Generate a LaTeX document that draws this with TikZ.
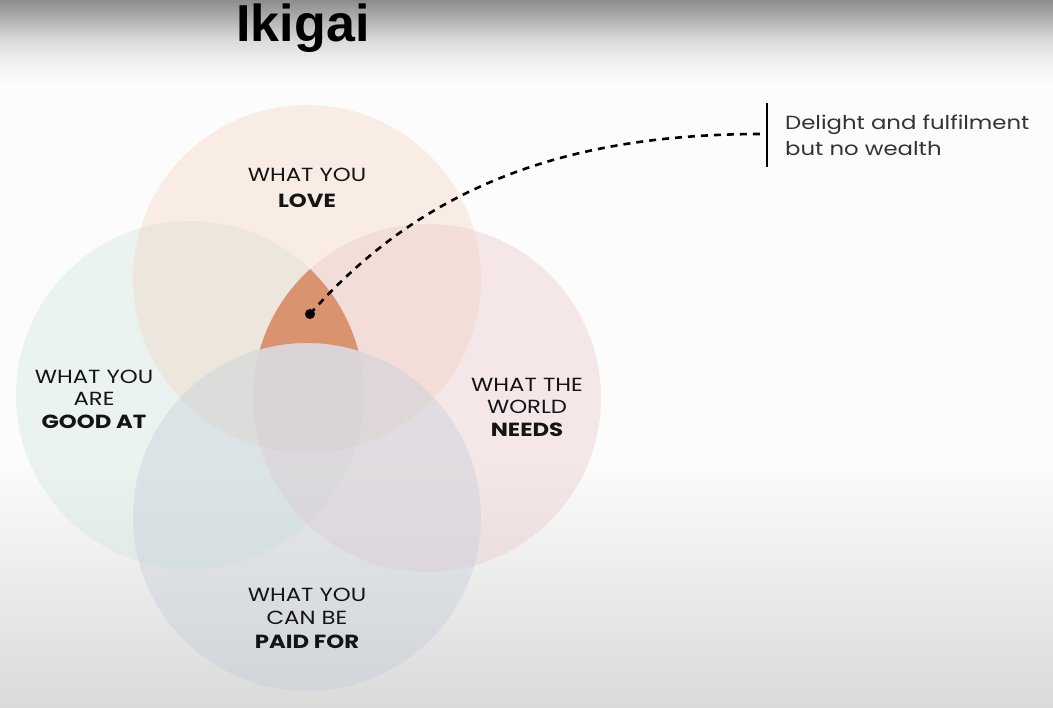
\documentclass[tikz,border=0pt]{standalone}
\usepackage{fontspec}
\setmainfont[FakeStretch=1.2]{Poppins}
\newfontfamily\titlefont{Liberation Sans}
\usetikzlibrary{positioning,calc}
\definecolor{iktop}{HTML}{8C8C8C}
\definecolor{iktopb}{HTML}{B4B4B4}
\definecolor{iktopc}{HTML}{DADADA}
\definecolor{iktopd}{HTML}{F0F0F0}
\definecolor{ikpaper}{HTML}{FCFCFC}
\definecolor{ikbottom}{HTML}{DADADA}
\definecolor{iklove}{HTML}{F2D4C0}
\definecolor{ikgood}{HTML}{D2E6DE}
\definecolor{ikneeds}{HTML}{EBC8C8}
\definecolor{ikpaid}{HTML}{C3CDD9}
\definecolor{ikorange}{HTML}{D9936F}
\definecolor{ikink}{HTML}{141414}
\definecolor{iknote}{HTML}{333333}
\tikzset{
  petal/.style ={circle,minimum size=348pt,inner sep=0pt,draw=none,fill opacity=0.4},
  lbl/.style   ={align=center,text=ikink,inner sep=0pt,font=\fontsize{19}{22.5}\selectfont},
  dot/.style   ={circle,fill=black,minimum size=10pt,inner sep=0pt},
  link/.style  ={line width=2.6pt,dash pattern=on 7pt off 6pt,draw=black},
  bar/.style   ={line width=2.6pt,draw=black},
  note/.style  ={align=left,anchor=west,text=iknote,inner sep=0pt,font=\fontsize{19}{26}\selectfont},
  heading/.style={font=\titlefont\bfseries\fontsize{52}{52}\selectfont},
}
\begin{document}
\begin{tikzpicture}[x=1pt,y=-1pt]
  \useasboundingbox (0,0) rectangle (1053,708);
  \fill[ikpaper] (0,0) rectangle (1053,708);
  \shade[top color=iktop,bottom color=iktopb,shading angle=0] (0,0) rectangle (1053,20.5);
  \shade[top color=iktopb,bottom color=iktopc] (0,20) rectangle (1053,40.5);
  \shade[top color=iktopc,bottom color=iktopd] (0,40) rectangle (1053,60.5);
  \shade[top color=iktopd,bottom color=ikpaper] (0,60) rectangle (1053,85);
  \shade[top color=ikpaper,bottom color=ikbottom] (0,460) rectangle (1053,708);

  % the four circles
  \node[petal,fill=ikgood]  (good)  at (190,395) {};
  \node[petal,fill=iklove]  (love)  at (307,279) {};
  \node[petal,fill=ikneeds] (needs) at (427,398) {};
  \node[petal,fill=ikpaid]  (paid)  at (307,517) {};

  % love + good at + needs, but not paid
  \begin{scope}[even odd rule]
    \clip (good.center) circle (174pt);
    \clip (needs.center) circle (174pt);
    \clip (0,0) rectangle (1053,708) (paid.center) circle (174pt);
    \fill[ikorange] (0,0) rectangle (1053,708);
  \end{scope}

  \node[heading] (title) at (303,28) {Ikigai};

  \node[lbl,font=\fontsize{19}{26}\selectfont] (lovetxt) at (307,188) {WHAT YOU\\\textbf{LOVE}};
  \node[lbl] (goodtxt)  at (94,399)  {WHAT YOU\\ARE\\\textbf{GOOD AT}};
  \node[lbl] (needstxt) at (527,407) {WHAT THE\\WORLD\\\textbf{NEEDS}};
  \node[lbl,font=\fontsize{19}{23.5}\selectfont] (paidtxt) at (307,618) {WHAT YOU\\CAN BE\\\textbf{PAID FOR}};

  \node[dot] (spot) at (310,314) {};
  \coordinate (tip) at (762,134);
  \coordinate (bartop) at (767,103);
  \coordinate (barbot) at (767,167);
  \draw[link] (spot.center) .. controls (420,190) and (560,134) .. (tip);
  \draw[bar] (bartop) -- (barbot);
  \node[note] (delight) at (785,135) {Delight and fulfilment\\but no wealth};
\end{tikzpicture}
\end{document}
